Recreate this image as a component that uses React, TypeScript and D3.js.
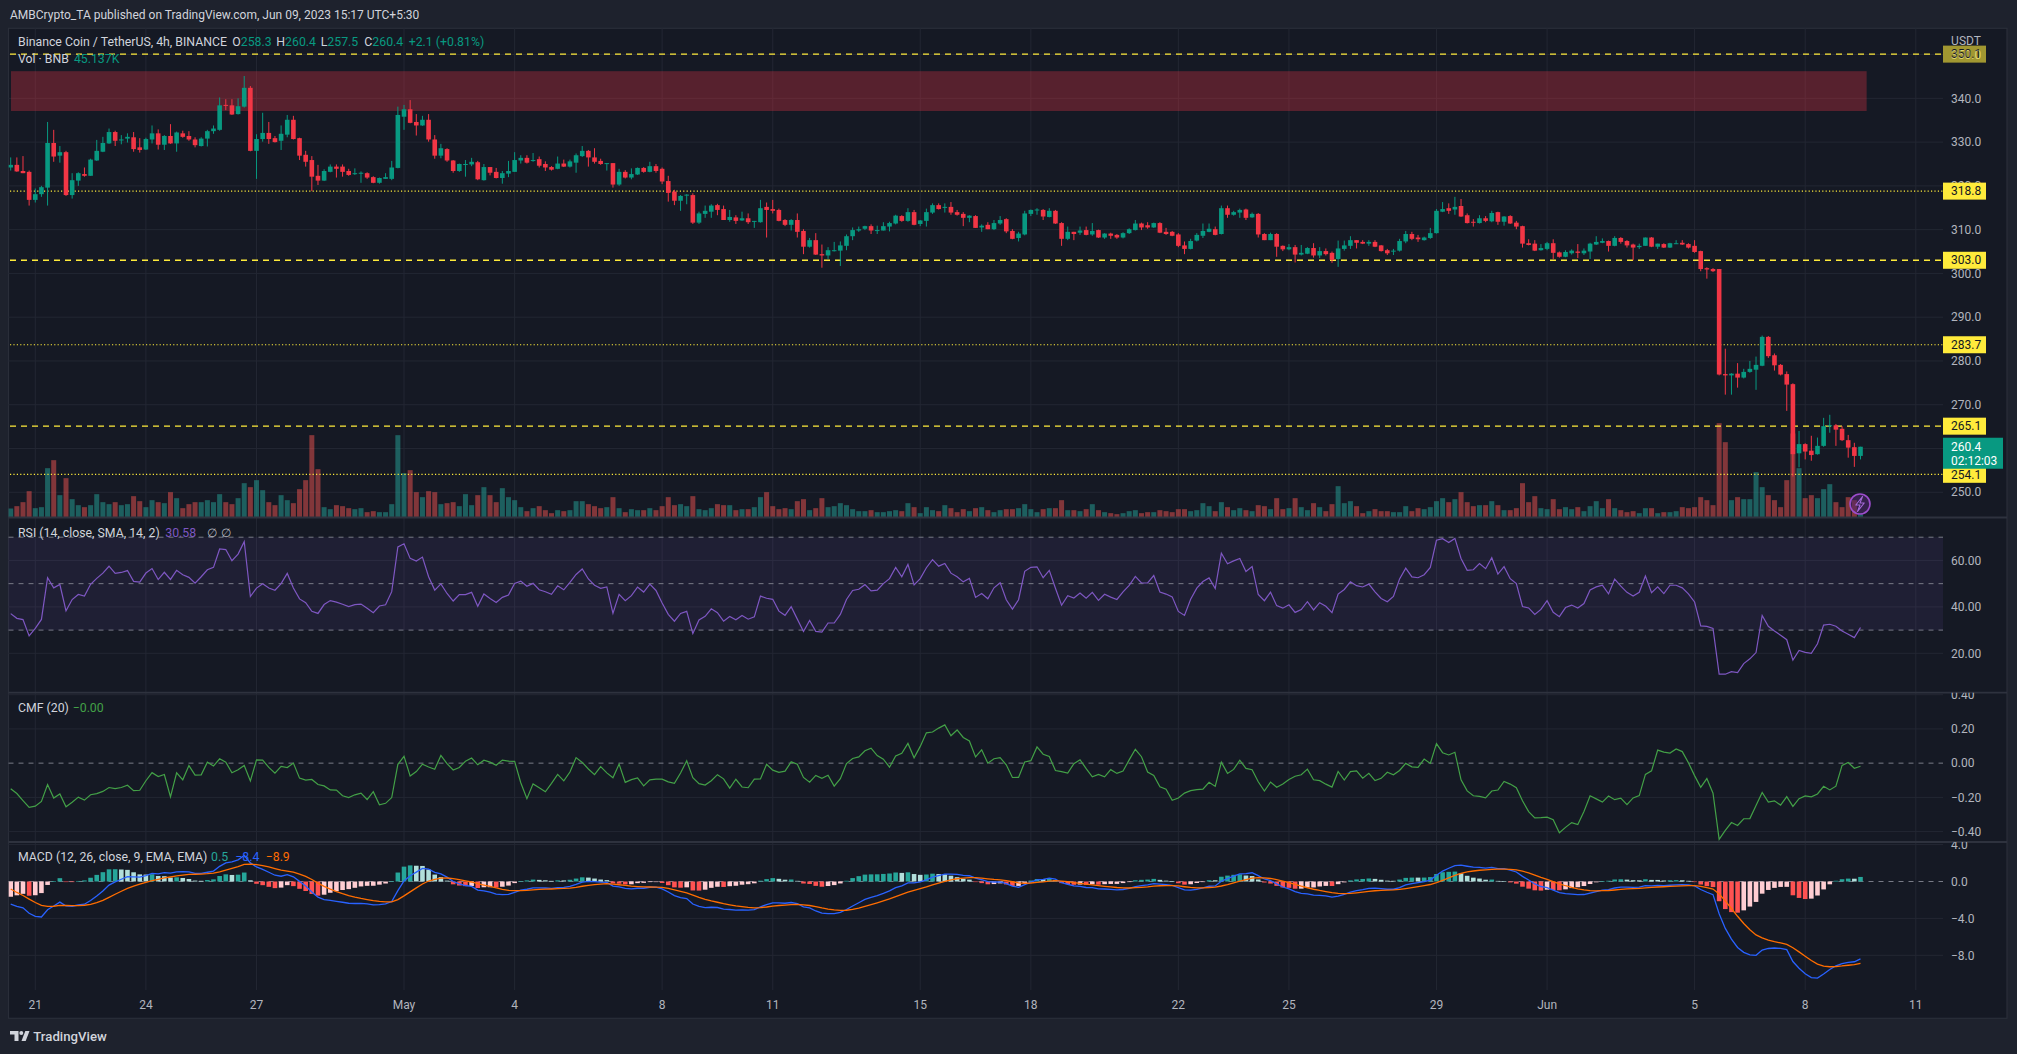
import React from 'react';
import * as d3 from 'd3';

const W = 2017;
const H = 1054;

// ---- 4h candles, BNB/USDT, Apr 20 09:30 IST .. Jun 9 13:30 IST ----
const OPEN = [
324.2,324.8,323.4,323.2,316.8,318.1,319.6,329.8,326.9,327.7,317.9,321.2,322.7,322.3,325.8,327.8,329.7,332.3,330.5,330.8,
331.1,328.8,328.3,330.6,332.0,329.4,331.4,329.7,332.0,331.4,330.6,329.1,330.8,332.5,332.8,338.5,338.4,336.4,338.1,342.4,
328.0,330.7,332.1,330.9,330.3,331.7,335.1,330.9,327.1,325.9,322.3,321.2,323.2,324.4,324.4,323.4,322.7,322.8,322.9,322.0,
320.7,321.6,321.6,324.1,335.8,337.5,334.6,333.8,335.1,330.6,326.9,328.4,325.8,323.4,324.9,324.9,325.4,321.3,324.3,323.2,
321.8,322.8,323.2,325.8,326.4,325.7,326.1,325.0,324.3,323.9,325.1,324.4,325.3,326.8,328.0,326.5,325.7,325.1,325.2,320.3,
323.2,321.9,322.6,324.1,323.2,324.5,323.9,321.1,318.7,316.6,317.9,317.9,311.6,313.6,314.1,315.6,314.7,312.2,312.8,312.1,
312.6,311.8,311.7,315.2,314.7,314.5,312.2,311.1,312.2,309.7,306.1,307.6,304.4,304.1,305.1,305.2,306.3,308.5,309.8,310.2,
310.8,309.8,309.8,310.7,311.4,313.1,312.0,314.0,311.3,312.0,313.9,315.6,315.1,315.2,314.0,313.6,312.7,313.1,310.5,311.1,
310.1,311.4,312.4,309.7,308.1,308.9,313.6,314.4,314.5,312.9,314.3,311.5,307.9,309.5,309.3,309.9,308.9,309.9,308.2,309.1,
308.8,308.2,309.2,309.9,311.4,311.0,310.5,311.5,309.5,309.5,308.9,306.4,305.6,307.5,308.6,309.5,310.1,309.0,314.9,313.4,
313.9,314.6,312.8,313.6,309.0,307.6,309.0,306.3,305.5,306.0,304.3,304.5,305.8,304.1,305.1,304.7,303.3,305.6,306.3,307.6,
307.2,306.8,307.2,306.4,305.3,305.1,305.2,307.3,309.0,308.2,307.6,308.1,309.2,314.1,314.9,314.6,315.4,313.3,311.8,311.5,
312.6,311.9,314.0,311.8,313.1,311.6,310.8,306.9,306.8,305.3,305.6,306.9,304.8,303.8,304.6,305.0,304.6,305.0,306.6,307.0,
307.4,306.3,308.1,307.4,306.6,306.0,306.3,308.2,306.1,306.7,305.9,306.8,307.0,306.7,306.3,305.1,301.2,301.0,301.0,277.0,
276.7,277.1,276.2,277.5,278.0,278.9,285.5,281.3,279.1,277.0,274.7,258.9,261.0,259.5,258.7,260.6,265.1,265.3,264.5,261.9,
260.3,258.3
];
const HIGH = [
326.5,326.5,326.8,323.5,319.4,320.0,334.6,332.8,329.1,328.0,322.9,323.1,324.2,326.2,330.5,331.2,333.1,332.6,331.6,332.0,
332.3,330.9,331.0,333.8,332.9,331.6,334.1,332.4,332.6,332.5,331.1,331.1,332.8,333.8,340.2,339.8,339.8,340.0,345.1,342.8,
331.8,336.7,334.6,331.4,333.8,336.2,336.0,331.0,328.0,326.8,324.8,323.8,324.9,324.9,324.9,323.9,324.0,323.3,323.1,322.2,
321.9,322.9,325.7,338.1,338.5,339.6,336.4,336.0,336.4,331.6,329.6,328.6,325.9,325.1,325.9,326.4,325.7,325.0,324.3,324.1,
323.4,325.7,327.7,327.0,327.0,327.5,326.7,325.6,324.5,326.7,326.0,326.0,327.4,329.1,328.2,328.6,326.2,325.2,325.2,323.9,
323.6,324.0,324.2,324.3,325.5,325.0,324.2,322.3,319.1,317.9,318.1,318.3,314.1,315.5,315.8,315.9,315.5,314.5,313.3,314.1,
313.7,312.0,316.8,316.2,316.8,314.8,312.4,312.4,313.7,310.1,308.1,309.2,306.6,306.0,307.2,307.3,308.9,310.5,310.7,310.9,
311.2,310.9,311.7,311.8,313.4,313.3,314.9,314.5,312.2,314.8,316.0,316.0,316.0,316.3,314.5,314.0,313.3,313.3,311.2,311.7,
312.2,313.1,312.6,310.1,309.5,314.3,314.6,314.9,314.7,314.9,314.5,311.7,310.7,309.5,310.7,310.7,311.5,310.0,309.2,309.3,
309.0,309.4,310.3,312.2,311.6,311.7,311.6,311.7,310.4,309.7,309.2,307.3,307.9,309.2,311.4,311.4,310.7,315.5,315.5,314.3,
314.8,314.8,313.9,313.8,309.2,309.3,309.2,306.4,306.7,306.5,306.5,306.0,306.9,306.0,305.7,305.0,307.5,307.5,308.5,307.6,
307.6,307.6,307.6,306.5,305.6,305.6,307.9,309.7,309.5,308.8,308.4,310.4,314.7,316.3,316.0,317.5,317.0,313.7,312.4,313.3,
313.1,314.3,314.1,313.1,313.3,312.0,310.9,307.8,307.6,306.7,307.2,307.8,305.0,305.3,305.5,306.7,305.7,307.0,308.5,308.0,
307.5,308.5,308.3,307.6,306.8,306.8,308.2,308.3,306.8,306.9,307.0,307.6,307.6,306.9,307.6,305.2,301.4,301.2,301.0,282.8,
277.2,279.5,278.2,280.0,281.0,285.8,285.7,281.7,279.3,277.6,274.9,264.0,261.2,262.9,262.5,267.0,267.7,265.6,265.1,263.1,
261.3,260.4
];
const LOW = [
323.5,323.2,322.9,315.5,316.2,317.5,315.5,325.5,325.3,317.7,317.1,320.0,322.1,322.3,325.7,327.7,329.6,329.1,329.5,329.9,
327.8,327.6,328.2,329.7,328.3,328.2,329.6,327.8,331.0,330.3,328.8,329.0,329.0,331.9,332.6,337.3,336.2,336.3,337.9,327.9,
321.6,330.1,329.6,329.9,328.2,331.1,330.6,325.9,324.4,318.8,320.2,321.1,323.1,321.9,322.1,322.3,322.5,320.7,321.6,320.6,
320.5,321.6,321.3,324.0,332.8,334.3,331.5,333.7,330.1,326.2,326.3,325.5,323.0,323.2,322.1,324.5,321.3,321.2,322.4,321.7,
320.5,322.0,323.2,325.1,325.1,325.5,324.2,323.4,323.5,323.8,324.3,324.2,323.0,326.6,324.4,325.1,324.8,323.5,319.6,320.0,
321.7,321.5,322.5,323.0,323.1,323.0,320.4,316.4,315.6,314.3,315.8,311.3,311.3,312.7,312.7,313.3,312.2,311.8,311.3,312.0,
311.3,310.4,311.6,308.2,313.7,311.9,310.8,309.8,308.2,304.4,305.9,304.2,301.3,303.3,305.0,301.7,305.3,307.6,309.5,309.9,
309.0,309.0,309.8,309.6,311.2,311.8,311.8,311.0,310.8,310.7,313.6,314.6,313.9,313.4,313.2,310.8,311.7,310.4,309.5,310.1,
309.9,311.1,309.2,307.8,307.3,308.7,313.1,313.4,312.2,312.8,311.3,306.3,307.6,307.6,308.8,308.7,308.6,308.1,307.9,307.9,
307.9,308.0,309.0,309.8,309.9,310.2,310.4,309.2,308.8,308.5,306.0,304.4,305.5,307.3,308.1,309.4,308.7,308.9,312.7,313.2,
312.7,312.2,312.7,308.2,307.6,307.6,303.8,305.1,305.3,302.5,304.1,304.4,303.6,303.5,304.1,302.4,301.5,305.2,305.6,305.7,
306.7,306.3,306.0,305.0,304.2,304.2,305.0,306.9,307.6,307.2,307.5,307.9,309.1,314.0,313.6,313.4,312.9,311.4,310.7,311.4,
311.7,311.7,311.1,310.9,311.3,310.1,305.9,306.4,305.1,305.2,305.3,303.3,303.6,303.7,304.3,303.5,304.2,303.3,306.5,306.9,
305.0,306.2,306.8,305.9,303.0,305.6,306.3,306.0,305.6,305.8,305.8,306.7,306.5,305.7,304.7,300.5,298.8,300.3,276.7,272.3,
272.3,273.9,276.0,277.3,273.4,278.8,280.7,277.8,276.7,268.6,253.6,255.7,257.5,257.2,258.6,260.4,263.6,260.6,261.7,257.9,
255.8,257.5
];
const CLOSE = [
324.8,323.3,322.9,316.8,318.1,319.7,329.8,326.7,327.7,317.9,321.3,322.9,322.3,326.0,328.0,329.8,332.3,330.3,330.6,331.2,
328.4,328.2,330.7,332.0,329.4,331.4,329.7,332.2,331.2,330.6,329.3,330.8,332.5,333.1,338.4,338.3,336.3,338.2,342.4,328.0,
330.7,332.1,330.7,330.0,331.9,335.1,330.7,326.9,325.5,322.1,321.2,323.4,324.4,323.9,323.2,322.5,322.9,323.0,321.9,320.7,
321.8,322.0,324.2,336.2,337.5,334.4,333.8,335.1,330.6,326.9,328.6,325.8,323.4,325.0,325.0,325.5,321.5,324.3,323.0,321.8,
322.9,323.4,325.9,326.4,325.3,325.9,324.6,324.2,323.7,325.1,324.4,325.6,327.0,328.0,326.5,325.5,325.0,325.2,320.3,323.2,
321.9,322.7,324.1,323.2,324.5,323.4,321.0,318.4,316.6,317.7,318.0,311.6,313.7,314.3,315.5,314.5,312.2,312.9,312.0,312.6,
311.7,312.0,314.9,314.5,314.3,312.0,311.1,312.2,309.5,306.1,307.6,304.3,304.1,305.3,305.3,306.4,308.5,309.9,310.1,310.8,
309.8,309.9,310.8,311.5,313.2,312.0,314.0,311.1,312.1,314.0,315.6,314.7,315.2,313.9,313.4,312.7,313.2,310.4,310.9,310.1,
311.5,312.2,309.6,307.9,309.1,313.7,314.5,314.6,313.0,314.3,311.4,307.9,309.5,309.0,309.8,308.8,309.7,308.2,309.1,308.6,
308.2,309.2,310.1,311.4,310.5,310.5,311.5,309.3,309.0,308.6,306.3,305.6,307.4,308.8,309.7,310.2,308.8,314.9,313.4,314.0,
314.5,312.7,313.6,308.9,307.6,309.0,306.1,305.5,306.0,304.3,304.7,305.8,304.1,305.1,304.4,303.1,305.7,306.4,307.6,307.0,
306.8,307.2,306.1,305.1,304.6,305.2,307.4,309.0,307.9,307.8,308.2,309.2,314.3,314.7,314.3,315.2,313.0,311.5,311.6,312.6,
312.0,313.8,311.8,313.0,311.4,310.7,306.8,306.5,305.2,305.8,306.9,304.7,303.8,304.9,305.2,304.7,305.2,306.8,307.2,307.4,
306.3,308.1,307.2,306.4,305.9,306.3,308.2,306.1,306.8,305.9,306.9,306.9,306.6,305.9,304.9,301.0,300.9,300.5,276.9,276.7,
277.1,276.2,277.5,278.2,279.1,285.5,281.1,279.0,276.9,274.6,258.7,261.0,259.3,258.5,260.6,265.1,265.3,264.3,261.9,260.2,
258.3,260.4
];
// volume, thousands of BNB
const VOLUME = [
135,170,230,395,140,155,740,860,335,590,275,185,155,185,350,230,200,230,185,200,
320,245,155,260,230,215,380,290,140,200,230,230,260,230,350,230,200,290,515,455,
560,410,230,185,335,260,215,425,560,1235,725,155,125,185,170,140,125,140,80,95,
80,80,200,1235,665,710,380,305,395,380,200,215,230,170,350,185,335,455,335,230,
440,305,260,155,95,140,170,110,65,110,95,110,245,245,200,170,140,155,305,140,
80,125,110,110,140,110,170,305,185,200,170,320,125,110,140,200,185,185,110,125,
125,155,305,380,170,125,140,125,245,275,110,140,290,155,170,215,185,125,95,95,
110,80,80,95,110,95,215,155,65,155,110,95,185,140,80,125,95,140,155,110,
80,110,125,125,140,200,125,80,125,140,140,260,110,110,95,125,200,110,80,65,
50,65,95,110,65,80,80,110,95,80,125,125,95,110,215,170,95,230,155,110,
140,110,95,185,170,125,290,125,140,290,155,110,215,155,95,200,470,215,245,170,
65,95,125,95,95,80,80,170,95,140,125,155,245,290,230,275,380,230,170,185,
185,245,185,110,110,140,515,230,320,140,125,275,125,155,125,155,95,170,245,140,
275,140,110,80,95,65,140,140,65,80,80,95,155,140,155,305,260,185,1415,1130,
260,305,275,275,680,455,335,260,155,560,1260,740,290,335,290,425,500,230,155,305,
260,45.137
];

const BAR_START = Date.UTC(2023, 3, 20, 4, 0); // Apr 20 09:30 UTC+5:30
const BAR_MS = 4 * 3600 * 1000;

const TICK_DATES = ['2023-04-21','2023-04-24','2023-04-27','2023-05-01','2023-05-04','2023-05-08','2023-05-11','2023-05-15',
  '2023-05-18','2023-05-22','2023-05-25','2023-05-29','2023-06-01','2023-06-05','2023-06-08','2023-06-11'];
const TICK_LABELS = ['21','24','27','May','4','8','11','15','18','22','25','29','Jun','5','8','11'];

const PRICE_TICKS = [250,260,270,280,290,300,310,320,330,340,350];
const LEVEL_VALUES = [350.1, 318.8, 303.0, 283.7, 265.1, 254.1];
const LEVEL_STYLES = ['dash','dot','dash','dot','dash','dot'];
const ZONE = [337.1, 346.2];
const ZONE_END_BAR = 302;

const RSI_TICKS = [20, 40, 60];
const RSI_LEVELS = [30, 50, 70];
const CMF_TICKS = [-0.4, -0.2, 0, 0.2, 0.4];
const MACD_TICKS = [-8, -4, 0, 4];

const RSI_SEED = [0.75, 1.35];
const MACD_SEED = [329.0, 331.3, -0.4];
const CMF_SEED = [-0.15, 250];

const LAST = { o: '258.3', h: '260.4', l: '257.5', c: '260.4', ch: '+2.1 (+0.81%)', vol: '45.137K', timer: '02:12:03' };
const RSI_LAST = '30.58';
const CMF_LAST = '\u22120.00';
const MACD_LAST = ['0.5', '\u22128.4', '\u22128.9'];

// ---- layout ----
const FONT = 'Roboto, "Noto Sans", sans-serif';
const BG_OUT = '#1e222d';
const BG = '#151924';
const GRID = '#232733';
const TXT = '#b2b5be';
const LEG = '#d1d4dc';
const UP = '#089981';
const DN = '#f23645';
const YEL = '#ffeb3b';

const L = 8.5, R = 2007, AX = 1943;
const P_TOP = 28.3, P_BOT = 517.5, RSI_BOT = 692.7, CMF_BOT = 842, MACD_BOT = 990, T_BOT = 1018.3;

function rsiSeries(): number[] {
  let g = RSI_SEED[0], l = RSI_SEED[1];
  return CLOSE.map((c, i) => {
    const ch = c - (i === 0 ? OPEN[0] : CLOSE[i - 1]);
    g = (g * 13 + Math.max(ch, 0)) / 14;
    l = (l * 13 + Math.max(-ch, 0)) / 14;
    return l === 0 ? 100 : 100 - 100 / (1 + g / l);
  });
}

function macdSeries() {
  let f = MACD_SEED[0], s = MACD_SEED[1], sig = MACD_SEED[2];
  let prevHist = f - s - sig;
  const macd: number[] = [], signal: number[] = [], hist: number[] = [], color: string[] = [];
  CLOSE.forEach((c) => {
    f += (2 / 13) * (c - f);
    s += (2 / 27) * (c - s);
    const m = f - s;
    sig += 0.2 * (m - sig);
    const h = m - sig;
    macd.push(m); signal.push(sig); hist.push(h);
    color.push(h >= 0 ? (prevHist < h ? '#26a69a' : '#b2dfdb') : (prevHist < h ? '#ffcdd2' : '#ff5252'));
    prevHist = h;
  });
  return { macd, signal, hist, color };
}

function cmfSeries(): number[] {
  const mfv = CLOSE.map((c, i) => {
    const h = HIGH[i], l = LOW[i];
    return h === l ? 0 : (((c - l) - (h - c)) / (h - l)) * VOLUME[i];
  });
  return CLOSE.map((_, i) => {
    let sm = 0, sv = 0;
    for (let j = Math.max(0, i - 19); j <= i; j++) { sm += mfv[j]; sv += VOLUME[j]; }
    if (i < 19) { const miss = 19 - i; sm += miss * CMF_SEED[1] * CMF_SEED[0]; sv += miss * CMF_SEED[1]; }
    return sm / sv;
  });
}

const fmtMinus = (s: string) => s.replace('-', '\u2212');

export default function App() {
  const barTime = (i: number) => new Date(BAR_START + i * BAR_MS);
  const xT = d3.scaleUtc().domain([barTime(0), barTime(301)]).range([10.7, 1860.5]);
  const xi = (i: number) => xT(barTime(i));
  const yP = d3.scaleLinear().domain([250, 340]).range([492.26, 98.33]);
  const yV = d3.scaleLinear().domain([0, 1500]).range([P_BOT, P_BOT - 100]);
  const yR = d3.scaleLinear().domain([30, 70]).range([630.1, 537.2]);
  const yC = d3.scaleLinear().domain([-0.4, 0.4]).range([831.6, 694.7]);
  const yM = d3.scaleLinear().domain([-8, 4]).range([955.3, 844.6]);

  const rsi = rsiSeries();
  const cmf = cmfSeries();
  const md = macdSeries();

  const lineOf = (y: (v: number) => number) => d3.line<number>().x((_, i) => xi(i)).y((v) => y(v));

  const tickXs = TICK_DATES.map((d) => {
    const [yy, mm, dd] = d.split('-').map(Number);
    return xT(new Date(Date.UTC(yy, mm - 1, dd, 0, 0) - 4 * 3600 * 1000)); // first 4h bar of the day (01:30)
  });

  const bw = 4.6;
  const AXF = 12;
  const LGF = 12.3;

  return (
    <div style={{ width: W, height: H, position: 'absolute', left: 0, top: 0, background: BG_OUT }}>
      <style>{`body{margin:0;background:${BG_OUT};}`}</style>
      <svg width={W} height={H} style={{ display: 'block', fontFamily: FONT }}>
        <defs>
          <clipPath id="cMain"><rect x={L} y={P_TOP} width={AX - L} height={P_BOT - P_TOP} /></clipPath>
          <clipPath id="cRsi"><rect x={L} y={P_BOT} width={R - L} height={RSI_BOT - P_BOT} /></clipPath>
          <clipPath id="cCmf"><rect x={L} y={RSI_BOT} width={R - L} height={CMF_BOT - RSI_BOT} /></clipPath>
          <clipPath id="cMacd"><rect x={L} y={CMF_BOT} width={R - L} height={MACD_BOT - CMF_BOT} /></clipPath>
          <clipPath id="cAxisP"><rect x={AX} y={P_TOP} width={R - AX} height={P_BOT - P_TOP} /></clipPath>
        </defs>
        <rect x={0} y={0} width={W} height={H} fill={BG_OUT} />
        <rect x={L} y={P_TOP} width={R - L} height={T_BOT - P_TOP} fill={BG} stroke="#2a2e39" strokeWidth={1.2} />

        {/* header */}
        <text x={10} y={19} fontSize={12} fill={LEG}>AMBCrypto_TA published on TradingView.com, Jun 09, 2023 15:17 UTC+5:30</text>

        {/* vertical grid */}
        {tickXs.map((x, k) => (
          <line key={'vg' + k} x1={x} x2={x} y1={P_TOP} y2={MACD_BOT} stroke={GRID} strokeWidth={1} />
        ))}
        {/* horizontal grid */}
        {PRICE_TICKS.map((p) => (
          <line key={'pg' + p} x1={L} x2={AX} y1={yP(p)} y2={yP(p)} stroke={GRID} />
        ))}
        {RSI_TICKS.map((v) => (
          <line key={'rg' + v} x1={L} x2={AX} y1={yR(v)} y2={yR(v)} stroke={GRID} />
        ))}
        {CMF_TICKS.filter((v) => v !== 0).map((v) => (
          <line key={'cg' + v} x1={L} x2={AX} y1={yC(v)} y2={yC(v)} stroke={GRID} />
        ))}
        {MACD_TICKS.filter((v) => v !== 0).map((v) => (
          <line key={'mg' + v} x1={L} x2={AX} y1={yM(v)} y2={yM(v)} stroke={GRID} />
        ))}

        {/* main panel */}
        <g clipPath="url(#cMain)">
          <rect x={11} y={yP(ZONE[1])} width={xi(ZONE_END_BAR) - 11} height={yP(ZONE[0]) - yP(ZONE[1])}
            fill="rgba(242,54,69,0.30)" />
          {VOLUME.map((v, i) => (
            <rect key={'v' + i} x={xi(i) - 2.5} width={5} y={yV(v)} height={P_BOT - yV(v)}
              fill={CLOSE[i] >= OPEN[i] ? 'rgba(38,166,154,0.5)' : 'rgba(239,83,80,0.5)'} />
          ))}
          {LEVEL_VALUES.map((v, k) => (
            <line key={'lv' + k} x1={10} x2={AX} y1={yP(v)} y2={yP(v)} stroke={YEL}
              strokeWidth={LEVEL_STYLES[k] === 'dash' ? 1.4 : 1.2}
              strokeDasharray={LEVEL_STYLES[k] === 'dash' ? '6 5' : '1.2 2.2'} />
          ))}
          {CLOSE.map((c, i) => {
            const o = OPEN[i];
            const col = c >= o ? UP : DN;
            const x = xi(i);
            const top = yP(Math.max(o, c));
            const bot = yP(Math.min(o, c));
            return (
              <g key={'k' + i}>
                <line x1={x} x2={x} y1={yP(HIGH[i])} y2={yP(LOW[i])} stroke={col} strokeWidth={1} />
                <rect x={x - bw / 2} y={top} width={bw} height={Math.max(1, bot - top)} fill={col} />
              </g>
            );
          })}
        </g>

        {/* RSI panel */}
        <rect x={L} y={yR(70)} width={AX - L} height={yR(30) - yR(70)} fill="rgba(126,87,194,0.10)" />
        {RSI_LEVELS.map((v) => (
          <line key={'rl' + v} x1={L} x2={AX} y1={yR(v)} y2={yR(v)} stroke="#787b86" strokeDasharray="5 5" strokeWidth={1} />
        ))}
        <g clipPath="url(#cRsi)">
          <path d={lineOf(yR)(rsi) || ''} fill="none" stroke="#7e57c2" strokeWidth={1.2} />
        </g>

        {/* CMF panel */}
        <line x1={L} x2={AX} y1={yC(0)} y2={yC(0)} stroke="#787b86" strokeDasharray="5 5" />
        <g clipPath="url(#cCmf)">
          <path d={lineOf(yC)(cmf) || ''} fill="none" stroke="#43a047" strokeWidth={1.2} />
        </g>

        {/* MACD panel */}
        <line x1={L} x2={AX} y1={yM(0)} y2={yM(0)} stroke="#787b86" strokeDasharray="5 5" />
        <g clipPath="url(#cMacd)">
          {md.hist.map((h, i) => (
            <rect key={'h' + i} x={xi(i) - 2.3} width={4.6} y={Math.min(yM(h), yM(0))}
              height={Math.max(0.6, Math.abs(yM(h) - yM(0)))} fill={md.color[i]} />
          ))}
          <path d={lineOf(yM)(md.macd) || ''} fill="none" stroke="#2962ff" strokeWidth={1.3} />
          <path d={lineOf(yM)(md.signal) || ''} fill="none" stroke="#ff6d00" strokeWidth={1.3} />
        </g>

        {/* separators */}
        {[P_BOT, RSI_BOT, CMF_BOT].map((y) => (
          <line key={'sep' + y} x1={L} x2={R} y1={y} y2={y} stroke="#2e323e" strokeWidth={1.8} />
        ))}

        {/* price axis */}
        <text x={1966} y={45} fontSize={AXF} fill={TXT} textAnchor="middle">USDT</text>
        <g clipPath="url(#cAxisP)">
          {PRICE_TICKS.map((p) => (
            <text key={'pt' + p} x={1951} y={yP(p) + 4.2} fontSize={AXF} fill={TXT}>{p.toFixed(1)}</text>
          ))}
          {LEVEL_VALUES.map((v, k) => (
            <g key={'lb' + k} opacity={k === 0 ? 0.6 : 1}>
              <rect x={AX} y={yP(v) - 8.5} width={43} height={17} fill={YEL} />
              <text x={1951} y={yP(v) + 4.2} fontSize={AXF} fill="#131722">{v.toFixed(1)}</text>
            </g>
          ))}
          <rect x={AX} y={yP(CLOSE[301]) - 9} width={60} height={31} fill={UP} />
          <text x={1951} y={yP(CLOSE[301]) + 4.2} fontSize={AXF} fill="#ffffff">{CLOSE[301].toFixed(1)}</text>
          <text x={1951} y={yP(CLOSE[301]) + 18} fontSize={AXF} fill="#ffffff">{LAST.timer}</text>
        </g>
        {/* indicator axes */}
        <g clipPath="url(#cRsi)">
          {RSI_TICKS.map((v) => (
            <text key={'rt' + v} x={1951} y={yR(v) + 4.2} fontSize={AXF} fill={TXT}>{v.toFixed(2)}</text>
          ))}
        </g>
        <g clipPath="url(#cCmf)">
          {CMF_TICKS.map((v) => (
            <text key={'ct' + v} x={1951} y={yC(v) + 4.2} fontSize={AXF} fill={TXT}>{fmtMinus(v.toFixed(2))}</text>
          ))}
        </g>
        <g clipPath="url(#cMacd)">
          {MACD_TICKS.map((v) => (
            <text key={'mt' + v} x={1951} y={yM(v) + 4.2} fontSize={AXF} fill={TXT}>{fmtMinus(v.toFixed(1))}</text>
          ))}
        </g>

        {/* time axis */}
        {tickXs.map((x, k) => (
          <text key={'tl' + k} x={x} y={1008.5} fontSize={AXF} fill={TXT} textAnchor="middle">{TICK_LABELS[k]}</text>
        ))}

        {/* legends */}
        <g fontSize={LGF}>
          <text x={18} y={46} fill={LEG}>Binance Coin / TetherUS, 4h, BINANCE</text>
          <text x={232.3} y={46} fill={LEG}>O<tspan fill={UP}>{LAST.o}</tspan></text>
          <text x={276.3} y={46} fill={LEG}>H<tspan fill={UP}>{LAST.h}</tspan></text>
          <text x={320.7} y={46} fill={LEG}>L<tspan fill={UP}>{LAST.l}</tspan></text>
          <text x={364.3} y={46} fill={LEG}>C<tspan fill={UP}>{LAST.c}</tspan></text>
          <text x={408.7} y={46} fill={UP}>{LAST.ch}</text>
          <text x={18} y={63} fill={LEG}>Vol · BNB</text>
          <text x={73.9} y={63} fill={UP}>{LAST.vol}</text>

          <text x={18} y={537.3} fill={LEG}>RSI (14, close, SMA, 14, 2)</text>
          <text x={165.3} y={537.3} fill="#7e57c2">{RSI_LAST}</text>
          <text x={206.7} y={537.3} fill={TXT}>∅</text>
          <text x={221.2} y={537.3} fill={TXT}>∅</text>

          <text x={18} y={712.3} fill={LEG}>CMF (20)</text>
          <text x={72.7} y={712.3} fill="#43a047">{CMF_LAST}</text>

          <text x={18} y={861} fill={LEG}>MACD (12, 26, close, 9, EMA, EMA)</text>
          <text x={211} y={861} fill="#26a69a">{MACD_LAST[0]}</text>
          <text x={235.3} y={861} fill="#2962ff">{MACD_LAST[1]}</text>
          <text x={265.7} y={861} fill="#ff6d00">{MACD_LAST[2]}</text>
        </g>

        {/* lightning badge */}
        <circle cx={1860} cy={504} r={10} fill="rgba(80,40,110,0.55)" stroke="#9c4dcc" strokeWidth={1.6} />
        <path d="M1862.5 496.5 L1855.8 505 L1860 505 L1857.5 511.5 L1864.2 503 L1860 503 Z" fill="none"
          stroke="#a66ad8" strokeWidth={1.1} strokeLinejoin="round" />

        {/* TradingView logo */}
        <g fill={LEG}>
          <path d="M10 1031 h8.5 v10 h-4 v-6.5 h-4.5 z" />
          <circle cx={21.3} cy={1033} r={2} />
          <path d="M21.5 1041 L25.3 1031 L29.5 1031 L25.7 1041 Z" />
          <text x={33.3} y={1041.3} fontSize={13.2} fontWeight={500}>TradingView</text>
        </g>
      </svg>
    </div>
  );
}
